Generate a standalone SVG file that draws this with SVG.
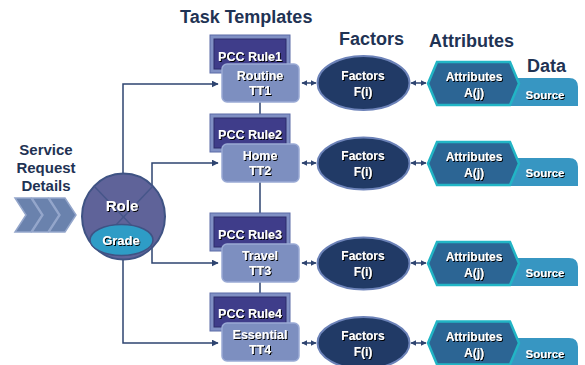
<svg xmlns="http://www.w3.org/2000/svg" width="585" height="365" viewBox="0 0 585 365">
<defs>
<filter id="sh" x="-20%" y="-30%" width="140%" height="160%">
<feDropShadow dx="1" dy="1" stdDeviation="0.6" flood-color="#000" flood-opacity="1"/>
</filter>
<marker id="arr" viewBox="0 0 10 10" refX="9" refY="5" markerWidth="7" markerHeight="7" markerUnits="userSpaceOnUse" orient="auto">
<path d="M0,0 L10,5 L0,10 z" fill="#2e4470"/>
</marker>
<marker id="sa" viewBox="0 0 10 10" refX="9" refY="5" markerWidth="6" markerHeight="6" markerUnits="userSpaceOnUse" orient="auto-start-reverse">
<path d="M0,0 L10,5 L0,10 z" fill="#2e4470"/>
</marker>
<path id="hex" d="M428,0 L437,-21.5 L510,-21.5 L519,0 L510,21.5 L437,21.5 Z"/>
</defs>
<style>
.title{font-family:"Liberation Sans",Arial,sans-serif;font-weight:bold;font-size:18px;fill:#1f3354}
.side{font-family:"Liberation Sans",Arial,sans-serif;font-weight:bold;font-size:15px;fill:#1f3354;text-anchor:middle}
.lbl{font-family:"Liberation Sans",Arial,sans-serif;font-weight:bold;font-size:12.5px;fill:#fff;text-anchor:middle;filter:url(#sh)}
.sm{font-size:12px}
.src{font-size:11.5px}
.conn{fill:none;stroke:#2e4470;stroke-width:1.5}
.dbl{fill:none;stroke:#2e4470;stroke-width:1.5;marker-start:url(#sa);marker-end:url(#sa)}
.tt{fill:#7d8fc0;stroke:#9aaad5;stroke-width:1.5}
.pccO{fill:#8090c4;stroke:#5b6aa6;stroke-width:1}
.pccI{fill:#3f3d8a;stroke:#2c2c6a;stroke-width:1}
.fac{fill:#213a66;stroke:#6c82b8;stroke-width:2}
.hex{fill:#2c6594;stroke:#22b5c5;stroke-width:2.5}
.srcbox{fill:#3796c2}
.chev{fill:#6a82ad;stroke:#94a6cb;stroke-width:1.5}
</style>

<text class="title" x="180" y="23">Task Templates</text>
<text class="title" x="339" y="45">Factors</text>
<text class="title" x="429" y="47">Attributes</text>
<text class="title" x="527" y="72">Data</text>

<g id="service-request">
<text class="side" x="46" y="155">Service</text>
<text class="side" x="46" y="173">Request</text>
<text class="side" x="46" y="191">Details</text>
<polygon class="chev" points="15,198 31,198 42,215 31,232 15,232 26,215"/>
<polygon class="chev" points="32,198 48,198 59,215 48,232 32,232 43,215"/>
<polygon class="chev" points="49,198 65,198 76,215 65,232 49,232 60,215"/>
</g>

<g id="connectors">
<line class="conn" x1="260" y1="100" x2="260" y2="330"/>
<path class="conn" d="M123,175 V84 H218" marker-end="url(#arr)"/>
<path class="conn" d="M152,185 V163 H218" marker-end="url(#arr)"/>
<path class="conn" d="M152,245 V263 H218" marker-end="url(#arr)"/>
<path class="conn" d="M123,255 V343 H218" marker-end="url(#arr)"/>
<line class="dbl" x1="302" y1="83" x2="316" y2="83"/>
<line class="dbl" x1="411" y1="83" x2="426" y2="83"/>
<line class="dbl" x1="302" y1="163" x2="316" y2="163"/>
<line class="dbl" x1="411" y1="163" x2="426" y2="163"/>
<line class="dbl" x1="302" y1="263" x2="316" y2="263"/>
<line class="dbl" x1="411" y1="263" x2="426" y2="263"/>
<line class="dbl" x1="302" y1="343" x2="316" y2="343"/>
<line class="dbl" x1="411" y1="343" x2="426" y2="343"/>
</g>

<g id="role">
<ellipse cx="123.5" cy="216.5" rx="41.5" ry="43" fill="#5f6399" stroke="#3f5384" stroke-width="2"/>
<line x1="94" y1="186" x2="152" y2="247" stroke="#46568a" stroke-width="1.5"/>
<line x1="153" y1="186" x2="95" y2="247" stroke="#46568a" stroke-width="1.5"/>
<ellipse cx="121.5" cy="240" rx="31.5" ry="15.5" fill="#2e9cc6" stroke="#3f5384" stroke-width="1.5"/>
<text class="lbl" x="122" y="211" style="font-size:15px">Role</text>
<text class="lbl" x="121" y="245" style="font-size:13px">Grade</text>
</g>

<g id="tt1">
<rect class="pccO" x="210" y="35" width="80" height="38"/>
<rect class="pccI" x="214" y="39" width="72" height="30"/>
<text class="lbl" x="250" y="61">PCC Rule1</text>
<rect class="tt" x="222" y="64" width="77" height="38" rx="5"/>
<text class="lbl" x="260" y="80">Routine</text>
<text class="lbl" x="260" y="95">TT1</text>
</g>
<g id="tt2">
<rect class="pccO" x="210" y="114" width="80" height="38"/>
<rect class="pccI" x="214" y="118" width="72" height="30"/>
<text class="lbl" x="250" y="139">PCC Rule2</text>
<rect class="tt" x="222" y="144" width="77" height="38" rx="5"/>
<text class="lbl" x="260" y="160">Home</text>
<text class="lbl" x="260" y="175">TT2</text>
</g>
<g id="tt3">
<rect class="pccO" x="210" y="213" width="80" height="38"/>
<rect class="pccI" x="214" y="217" width="72" height="30"/>
<text class="lbl" x="250" y="239">PCC Rule3</text>
<rect class="tt" x="222" y="244" width="77" height="38" rx="5"/>
<text class="lbl" x="260" y="260">Travel</text>
<text class="lbl" x="260" y="275">TT3</text>
</g>
<g id="tt4">
<rect class="pccO" x="210" y="293" width="80" height="38"/>
<rect class="pccI" x="214" y="297" width="72" height="30"/>
<text class="lbl" x="250" y="318">PCC Rule4</text>
<rect class="tt" x="222" y="323" width="77" height="38" rx="5"/>
<text class="lbl" x="260" y="339">Essential</text>
<text class="lbl" x="260" y="354">TT4</text>
</g>

<g id="factors1">
<ellipse class="fac" cx="363.5" cy="83" rx="46" ry="27"/>
<text class="lbl sm" x="363" y="80">Factors</text>
<text class="lbl sm" x="363" y="96">F(i)</text>
</g>
<g id="factors2">
<ellipse class="fac" cx="363.5" cy="163.5" rx="46" ry="26"/>
<text class="lbl sm" x="363" y="160">Factors</text>
<text class="lbl sm" x="363" y="176">F(i)</text>
</g>
<g id="factors3">
<ellipse class="fac" cx="363.5" cy="263.5" rx="46" ry="26"/>
<text class="lbl sm" x="363" y="260">Factors</text>
<text class="lbl sm" x="363" y="276">F(i)</text>
</g>
<g id="factors4">
<ellipse class="fac" cx="363.5" cy="343" rx="46" ry="26"/>
<text class="lbl sm" x="363" y="340">Factors</text>
<text class="lbl sm" x="363" y="356">F(i)</text>
</g>

<g id="attr1">
<path class="srcbox" d="M500,78 H569 Q578,78 578,87 V106 H500 Z"/>
<text class="lbl src" x="545" y="99">Source</text>
<use href="#hex" class="hex" transform="translate(0,83.5)"/>
<text class="lbl sm" x="474" y="81">Attributes</text>
<text class="lbl sm" x="474" y="97">A(j)</text>
</g>
<g id="attr2">
<path class="srcbox" d="M500,158 H569 Q578,158 578,167 V186 H500 Z"/>
<text class="lbl src" x="545" y="177">Source</text>
<use href="#hex" class="hex" transform="translate(0,163.5)"/>
<text class="lbl sm" x="474" y="161">Attributes</text>
<text class="lbl sm" x="474" y="177">A(j)</text>
</g>
<g id="attr3">
<path class="srcbox" d="M500,258 H569 Q578,258 578,267 V286 H500 Z"/>
<text class="lbl src" x="545" y="277">Source</text>
<use href="#hex" class="hex" transform="translate(0,263.5)"/>
<text class="lbl sm" x="474" y="261">Attributes</text>
<text class="lbl sm" x="474" y="277">A(j)</text>
</g>
<g id="attr4">
<path class="srcbox" d="M500,338 H569 Q578,338 578,347 V365 H500 Z"/>
<text class="lbl src" x="545" y="358">Source</text>
<use href="#hex" class="hex" transform="translate(0,343)"/>
<text class="lbl sm" x="474" y="341">Attributes</text>
<text class="lbl sm" x="474" y="357">A(j)</text>
</g>
</svg>
